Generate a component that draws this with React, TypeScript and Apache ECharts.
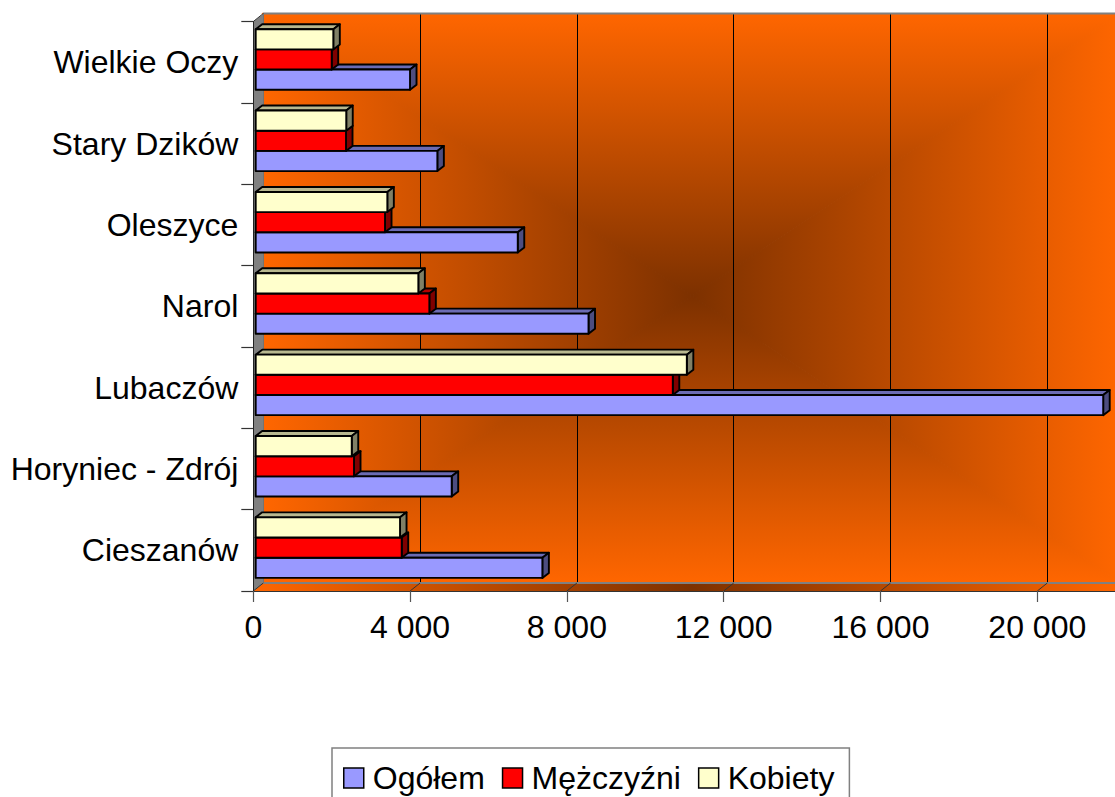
import React, { useEffect, useRef } from 'react';
import * as echarts from 'echarts';

// ---------- data ----------
const categories = ['Cieszanów', 'Horyniec - Zdrój', 'Lubaczów', 'Narol', 'Oleszyce', 'Stary Dzików', 'Wielkie Oczy'];
const seriesNames = ['Ogółem', 'Mężczyźni', 'Kobiety'];
const ogolem = [7313, 5000, 21620, 8490, 6685, 4634, 3937];
const mezczyzni = [3725, 2508, 10640, 4430, 3299, 2304, 1939];
const kobiety = [3682, 2450, 10998, 4149, 3358, 2310, 1980];
const xTicks = [0, 4000, 8000, 12000, 16000, 20000];
const xMin = 0;
const xMax = 24000;
const xInterval = 4000;

// ---------- layout / style ----------
const FONT = '"Liberation Sans", Arial, sans-serif';
const VIEW_W = 1115;
const VIEW_H = 797;
const CANVAS_W = 1260;
const FRONT_LEFT = 253.3;
const FRONT_TOP = 21.5;
const PLOT_H = 569.5;
const PLOT_W = 940.8;
const DEPTH_X = 10;
const DEPTH_Y = 8;
const BAR_SHIFT_X = 2.4;
const BAR_SHIFT_Y = 1.9;
const BAR_DX = 6.5;
const BAR_DY = 5;
const ORANGE = '#FF6600';
const DARK = '#7D3100';
const GRAD_CX = 692;
const GRAD_CY = 296;

const palettes = [
  { front: '#9999FF', top: '#6B6BB3', side: '#4D4D80' },
  { front: '#FF0000', top: '#B30000', side: '#800000' },
  { front: '#FFFFCC', top: '#B8B890', side: '#808066' },
];

const fmt = (v: number) => String(v).replace(/\B(?=(\d{3})+(?!\d))/g, ' ');

function makeRenderItem(slot: number, pal: { front: string; top: string; side: string }) {
  return (params: any, api: any) => {
    const v = api.value(0);
    const c = api.value(1);
    const p0 = api.coord([0, c]);
    const p1 = api.coord([v, c]);
    const band = api.size([0, 1])[1];
    const h = band * 0.248;
    const yT = p0[1] + h * (0.5 - slot) - 0.8;
    const x0 = p0[0];
    const x1 = p1[0];
    const st = { stroke: '#000', lineWidth: 1.9, lineJoin: 'round' };
    return {
      type: 'group',
      children: [
        {
          type: 'polygon',
          shape: { points: [[x0, yT], [x0 + BAR_DX, yT - BAR_DY], [x1 + BAR_DX, yT - BAR_DY], [x1, yT]] },
          style: { fill: pal.top, ...st },
        },
        {
          type: 'polygon',
          shape: { points: [[x1, yT], [x1 + BAR_DX, yT - BAR_DY], [x1 + BAR_DX, yT + h - BAR_DY], [x1, yT + h]] },
          style: { fill: pal.side, ...st },
        },
        {
          type: 'rect',
          shape: { x: x0, y: yT, width: x1 - x0, height: h },
          style: { fill: pal.front, ...st },
        },
      ],
    };
  };
}

export default function App() {
  const ref = useRef<HTMLDivElement>(null);

  useEffect(() => {
    if (!ref.current) return;
    const chart = echarts.init(ref.current, undefined, { renderer: 'svg' });
    const allData = [ogolem, mezczyzni, kobiety];

    chart.setOption({
      animation: false,
      backgroundColor: '#FFFFFF',
      grid: [
        { left: FRONT_LEFT + BAR_SHIFT_X, top: FRONT_TOP - BAR_SHIFT_Y, width: PLOT_W, height: PLOT_H, containLabel: false },
        { left: FRONT_LEFT, top: FRONT_TOP, width: PLOT_W, height: PLOT_H, containLabel: false },
        { left: FRONT_LEFT + DEPTH_X, top: FRONT_TOP - DEPTH_Y, width: PLOT_W, height: PLOT_H, containLabel: false },
      ],
      xAxis: [
        { gridIndex: 0, type: 'value', min: xMin, max: xMax, interval: xInterval, show: false },
        {
          gridIndex: 1, type: 'value', min: xMin, max: xMax, interval: xInterval, z: 5,
          axisLine: { show: true, lineStyle: { color: '#333', width: 1 } },
          axisTick: { show: true, length: 11, lineStyle: { color: '#555', width: 1.2 } },
          splitLine: { show: false },
          axisLabel: {
            show: true, margin: 20, fontSize: 32, fontFamily: FONT, color: '#000',
            formatter: (v: number) => (xTicks.indexOf(v) >= 0 ? fmt(v) : ''),
          },
        },
        {
          gridIndex: 2, type: 'value', min: xMin, max: xMax, interval: xInterval,
          axisLine: { show: false }, axisTick: { show: false }, axisLabel: { show: false },
          splitLine: { show: true, lineStyle: { color: '#000', width: 1 } },
        },
      ],
      yAxis: [
        { gridIndex: 0, type: 'category', data: categories, show: false },
        {
          gridIndex: 1, type: 'category', data: categories, z: 5,
          axisLine: { show: true, lineStyle: { color: '#222', width: 1 } },
          axisTick: { show: true, length: 12, lineStyle: { color: '#333', width: 1.2 } },
          splitLine: { show: false },
          axisLabel: { margin: 15, fontSize: 32, fontFamily: FONT, color: '#000' },
        },
        { gridIndex: 2, type: 'category', data: categories, show: false },
      ],
      legend: {
        data: seriesNames,
        left: 332,
        top: 748,
        orient: 'horizontal',
        icon: 'rect',
        itemWidth: 20,
        itemHeight: 20,
        itemGap: 17,
        padding: [14, 15, 8, 11],
        borderColor: '#808080',
        borderWidth: 1.5,
        itemStyle: { borderColor: '#000', borderWidth: 1.5 },
        textStyle: { fontSize: 32, fontFamily: FONT, color: '#000', padding: [0, 0, 0, 4] },
      },
      series: seriesNames.map((name, i) => ({
        name,
        type: 'custom',
        xAxisIndex: 0,
        yAxisIndex: 0,
        itemStyle: { color: palettes[i].front },
        renderItem: makeRenderItem(i, palettes[i]),
        encode: { x: 0, y: 1 },
        data: allData[i].map((v, idx) => [v, idx]),
      })),
    });

    // decorations (walls, floor) computed from the axes' pixel mapping
    const frontX = (v: number) => chart.convertToPixel({ xAxisIndex: 1 }, v) as number;
    const yTop = FRONT_TOP;
    const yBot = FRONT_TOP + PLOT_H;
    const bx0 = FRONT_LEFT + DEPTH_X;
    const by0 = yTop - DEPTH_Y;
    const by1 = yBot - DEPTH_Y;
    const bx1 = 2 * GRAD_CX - bx0;
    const farRight = frontX(xMax) + DEPTH_X;
    const cx = GRAD_CX;
    const cy = GRAD_CY;
    const lg = (x2: number, y2: number, from: string, to: string) => ({
      type: 'linear', x: 0, y: 0, x2, y2,
      colorStops: [{ offset: 0, color: from }, { offset: 1, color: to }],
    });
    const tri = (points: number[][], g: any) => ({
      type: 'polygon', z: -9, shape: { points }, style: { fill: g, stroke: g, lineWidth: 1.2 },
    });

    const graphic: any[] = [
      { type: 'rect', z: -10, shape: { x: bx1, y: by0, width: farRight - bx1, height: by1 - by0 }, style: { fill: ORANGE } },
      tri([[bx0, by0], [bx0, by1], [cx, cy]], lg(1, 0, ORANGE, DARK)),
      tri([[bx1, by0], [bx1, by1], [cx, cy]], lg(1, 0, DARK, ORANGE)),
      tri([[bx0, by0], [bx1, by0], [cx, cy]], lg(0, 1, ORANGE, DARK)),
      tri([[bx0, by1], [bx1, by1], [cx, cy]], lg(0, 1, DARK, ORANGE)),
      // floor
      {
        type: 'polygon', z: 1,
        shape: { points: [[FRONT_LEFT, yBot], [bx0, by1], [farRight, by1], [farRight - DEPTH_X, yBot]] },
        style: {
          fill: {
            type: 'linear', x: 0, y: 0, x2: 1, y2: 0,
            colorStops: [
              { offset: 0, color: ORANGE },
              { offset: (cx - FRONT_LEFT) / (farRight - FRONT_LEFT), color: DARK },
              { offset: Math.min(1, (bx1 - FRONT_LEFT) / (farRight - FRONT_LEFT)), color: ORANGE },
              { offset: 1, color: ORANGE },
            ],
          },
          stroke: 'none',
        },
      },
      // back floor edge and wall top edge
      { type: 'line', z: 1, shape: { x1: bx0, y1: by1, x2: farRight, y2: by1 }, style: { stroke: '#808080', lineWidth: 2.2 } },
      { type: 'line', z: 1, shape: { x1: bx0, y1: by0, x2: farRight, y2: by0 }, style: { stroke: '#808080', lineWidth: 2.2 } },
      // side wall
      {
        type: 'polygon', z: 1,
        shape: { points: [[FRONT_LEFT, yTop], [bx0 + 0.6, by0], [bx0 + 0.6, by1], [FRONT_LEFT, yBot]] },
        style: { fill: '#808080', stroke: 'none' },
      },
      { type: 'line', z: 5, shape: { x1: FRONT_LEFT, y1: yTop, x2: bx0, y2: by0 }, style: { stroke: '#333', lineWidth: 1 } },
    ];
    xTicks.forEach((v) => {
      const fx = frontX(v);
      graphic.push({
        type: 'line', z: 5,
        shape: { x1: fx, y1: yBot, x2: fx + DEPTH_X, y2: by1 },
        style: { stroke: '#333', lineWidth: 1 },
      });
    });

    chart.setOption({ graphic });

    return () => chart.dispose();
  }, []);

  return (
    <div style={{ position: 'fixed', left: 0, top: 0, width: VIEW_W, height: VIEW_H, overflow: 'hidden' }}>
      <div ref={ref} style={{ width: CANVAS_W, height: VIEW_H }} />
    </div>
  );
}
